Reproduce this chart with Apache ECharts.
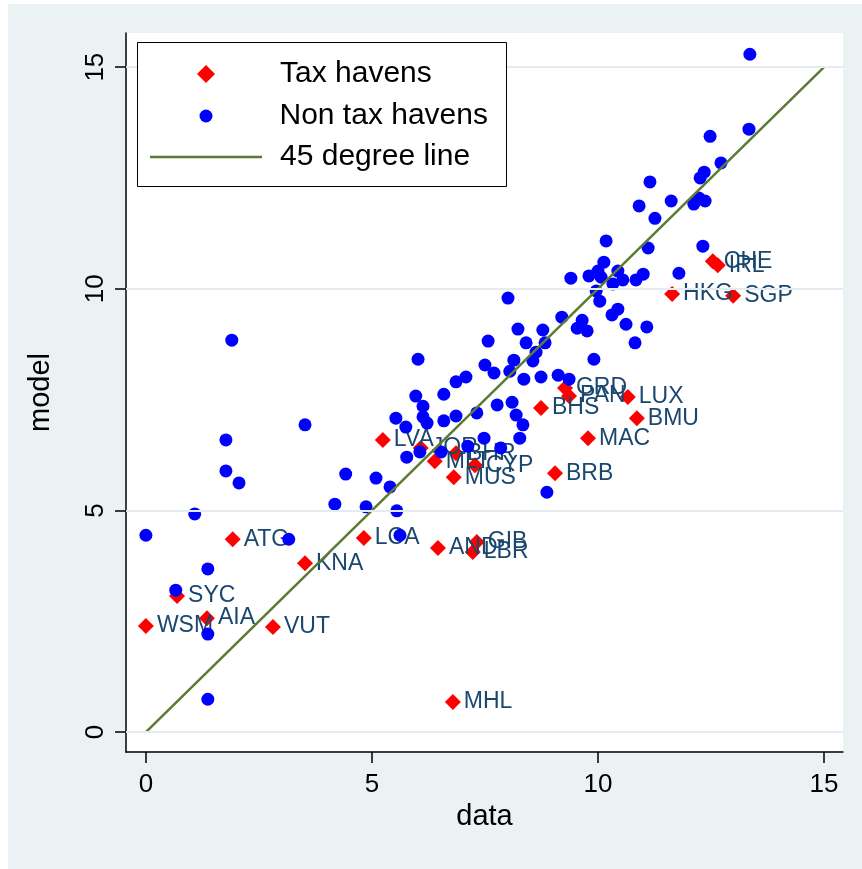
<!DOCTYPE html>
<html>
<head>
<meta charset="utf-8">
<script src="https://cdn.jsdelivr.net/npm/echarts@6/dist/echarts.min.js"></script>
<style>
html,body{margin:0;padding:0;background:#fff;}
#c{width:862px;height:869px;}
</style>
</head>
<body>
<div id="c"></div>
<script>
// Tax havens: names and [data, model]
const havenNames = ['WSM','SYC','AIA','ATG','VUT','KNA','LCA','LVA','JOR','MLT','BHR','CYP','MUS','AND','GIB','LBR','MHL','BRB','BHS','GRD','PAN','LUX','BMU','MAC','HKG','SGP','CHE','IRL'];
const havenData = [
  [0.00,2.39],[0.69,3.07],[1.35,2.57],[1.92,4.35],[2.81,2.37],[3.52,3.81],[4.82,4.38],[5.24,6.59],
  [6.08,6.41],[6.39,6.11],[6.86,6.29],[7.28,6.02],[6.81,5.75],[6.46,4.15],[7.32,4.29],[7.23,4.06],
  [6.79,0.68],[9.05,5.84],[8.74,7.31],[9.27,7.76],[9.36,7.58],[10.66,7.56],[10.86,7.08],[9.78,6.63],
  [11.64,9.88],[12.99,9.84],[12.54,10.62],[12.65,10.53]
];
// Non tax havens: [data, model]
const otherData = [
  [13.36,15.29],[13.34,13.60],[12.48,13.44],[12.72,12.84],[12.35,12.63],[12.26,12.50],[11.15,12.41],[11.62,11.98],
  [10.91,11.87],[11.26,11.59],[12.12,11.91],[12.23,12.05],[12.37,11.98],[10.18,11.08],[11.11,10.92],[12.32,10.96],
  [10.13,10.60],[9.40,10.24],[9.80,10.29],[10.00,10.40],[10.07,10.26],[10.44,10.40],[10.55,10.20],[10.33,10.11],
  [10.84,10.20],[11.00,10.33],[11.79,10.35],[9.96,9.95],[10.04,9.72],[9.20,9.36],[9.65,9.29],[9.54,9.11],
  [9.76,9.05],[10.31,9.41],[10.44,9.54],[10.62,9.20],[11.08,9.14],[10.82,8.78],[9.91,8.41],[8.78,9.07],
  [8.83,8.78],[8.74,8.01],[9.12,8.05],[9.36,7.96],[8.01,9.79],[8.23,9.09],[8.41,8.78],[8.63,8.57],
  [8.56,8.37],[8.14,8.39],[8.05,8.14],[8.36,7.96],[7.57,8.82],[7.50,8.28],[7.70,8.10],[6.02,8.41],
  [7.08,8.01],[6.86,7.90],[6.59,7.62],[5.97,7.58],[6.13,7.35],[6.13,7.11],[6.22,6.97],[5.75,6.88],
  [5.53,7.08],[6.59,7.02],[6.86,7.13],[7.32,7.20],[7.77,7.38],[8.10,7.44],[8.19,7.15],[8.34,6.93],
  [8.27,6.63],[7.48,6.63],[7.12,6.45],[7.85,6.41],[6.53,6.32],[6.06,6.32],[5.77,6.20],[5.09,5.73],
  [5.40,5.53],[4.87,5.08],[5.55,4.99],[5.62,4.44],[8.87,5.41],[4.42,5.82],[4.18,5.14],[3.52,6.93],
  [1.90,8.84],[1.77,6.59],[1.77,5.89],[2.06,5.62],[1.08,4.92],[0.00,4.44],[3.16,4.35],[1.37,3.68],
  [0.66,3.20],[1.37,2.21],[1.37,0.74]
];
// 45 degree line end points
const lineData = [[0,0],[15,15]];
// tick labels
const xTicks = [0,5,10,15];
const yTicks = [0,5,10,15];

const FONT = "'Liberation Sans', Arial, sans-serif";
const LINE_COLOR = '#5b7a34';
const chart = echarts.init(document.getElementById('c'), null, {renderer:'canvas'});

const legendText = {fontFamily: FONT, fontSize: 30, color: '#000', lineHeight: 30};

const option = {
  backgroundColor: '#ffffff',
  animation: false,
  graphic: [
    {type: 'rect', z: -100, silent: true,
     shape: {x: 8, y: 4, width: 854, height: 865},
     style: {fill: '#eaf2f3'}},
    {type: 'rect', z: 50, silent: true,
     shape: {x: 137.5, y: 42.5, width: 369, height: 144},
     style: {fill: '#ffffff', stroke: '#000000', lineWidth: 1}}
  ],
  grid: {
    left: 126, top: 33, right: 19, bottom: 117,
    show: true, backgroundColor: '#ffffff', borderWidth: 0,
    containLabel: false
  },
  legend: [
    {
      orient: 'vertical', left: 197, top: 59, padding: 0, z: 60,
      itemWidth: 18, itemHeight: 18,
      textStyle: Object.assign({padding: [0,0,0,60]}, legendText),
      data: ['Tax havens']
    },
    {
      orient: 'vertical', left: 199.5, top: 101, padding: 0, z: 60,
      itemWidth: 13, itemHeight: 13,
      textStyle: Object.assign({padding: [0,0,0,62]}, legendText),
      data: ['Non tax havens']
    },
    {
      orient: 'vertical', left: 150, top: 142, padding: 0, z: 60,
      itemWidth: 112, itemHeight: 2.6,
      textStyle: Object.assign({padding: [0,0,0,13]}, legendText),
      data: [{name: '45 degree line', icon: 'rect'}]
    }
  ],
  xAxis: {
    type: 'value', min: -0.44, max: 15.42,
    name: 'data', nameLocation: 'middle', nameGap: 50,
    nameTextStyle: {fontFamily: FONT, fontSize: 29, color: '#000'},
    axisLine: {show: true, onZero: false, lineStyle: {color: '#000', width: 1.5}},
    axisTick: {show: true, length: 11, customValues: xTicks, lineStyle: {color: '#000', width: 1.5}},
    axisLabel: {customValues: xTicks, fontFamily: FONT, fontSize: 26, color: '#000', margin: 20},
    splitLine: {show: false}
  },
  yAxis: {
    type: 'value', min: -0.45, max: 15.77,
    name: 'model', nameLocation: 'middle', nameGap: 71, nameRotate: 90,
    nameTextStyle: {fontFamily: FONT, fontSize: 29, color: '#000'},
    axisLine: {show: true, onZero: false, lineStyle: {color: '#000', width: 1.5}},
    axisTick: {show: true, length: 11, customValues: yTicks, lineStyle: {color: '#000', width: 1.5}},
    axisLabel: {customValues: yTicks, rotate: 90, fontFamily: FONT, fontSize: 26, color: '#000', margin: 17},
    splitLine: {show: false}
  },
  series: [
    {
      name: 'grid', type: 'line', data: [], z: 1, silent: true,
      markLine: {
        silent: true, symbol: 'none', animation: false,
        label: {show: false},
        lineStyle: {color: '#e3ecee', width: 2, type: 'solid'},
        data: yTicks.map(v => ({yAxis: v}))
      }
    },
    {
      name: 'Tax havens', type: 'scatter', z: 2,
      symbol: 'diamond', symbolSize: 16,
      itemStyle: {color: '#ff0000', opacity: 1},
      label: {
        show: true, position: 'right', distance: 3,
        fontFamily: FONT, fontSize: 23, color: '#1a476f',
        formatter: p => havenNames[p.dataIndex]
      },
      labelLayout: {hideOverlap: false},
      data: havenData
    },
    {
      name: 'Non tax havens', type: 'scatter', z: 3,
      symbol: 'circle', symbolSize: 13,
      itemStyle: {color: '#0000ff', opacity: 1},
      data: otherData
    },
    {
      name: '45 degree line', type: 'line', z: 4,
      symbol: 'none', showSymbol: false,
      lineStyle: {color: LINE_COLOR, width: 2.5},
      itemStyle: {color: LINE_COLOR},
      data: lineData
    }
  ]
};
chart.setOption(option);
</script>
</body>
</html>
